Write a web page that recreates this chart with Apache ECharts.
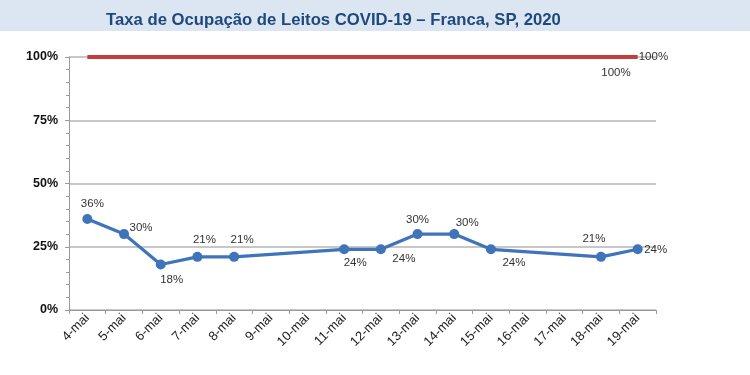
<!DOCTYPE html>
<html>
<head>
<meta charset="utf-8">
<script src="https://cdn.jsdelivr.net/npm/echarts@6/dist/echarts.min.js"></script>
<style>
  html, body { margin: 0; padding: 0; background: #fff; }
  #band { position: absolute; left: 0; top: 0; width: 750px; height: 31px; background: #dce6f2; }
  #chart { position: absolute; left: 0; top: 0; width: 750px; height: 375px; }
</style>
</head>
<body>
<div id="band"></div>
<div id="chart"></div>
<script>
const days = ["4-mai", "5-mai", "6-mai", "7-mai", "8-mai", "9-mai", "10-mai", "11-mai",
  "12-mai", "13-mai", "14-mai", "15-mai", "16-mai", "17-mai", "18-mai", "19-mai"];
const ocupacao = [36, 30, 18, 21, 21, null, null, 24, 24, 30, 30, 24, null, null, 21, 24];
const limite = [100, 100, 100, 100, 100, 100, 100, 100, 100, 100, 100, 100, 100, 100, 100, 100];

// label nudges (px from the point), placed like the original
const blueLabelOffset = {
  0: [5, -15], 1: [17, -6], 2: [11, 15], 3: [7, -17], 4: [8, -17],
  7: [11, 14], 8: [23, 10], 9: [0, -14], 10: [13, -11], 11: [23, 14],
  14: [-7, -18], 15: [18, 1]
};

const chart = echarts.init(document.getElementById("chart"));

const blueData = ocupacao.map((v, i) => {
  if (v === null) return null;
  return { value: v, label: { position: "inside", offset: blueLabelOffset[i] } };
});

const last = limite.length - 1;
const redData = limite.map((v, i) => {
  if (i === last) return { value: v, label: { show: true, position: "right", distance: 1 } };
  if (i === last - 1) return { value: v, label: { show: true, position: "inside", offset: [15, 16] } };
  return v;
});

chart.setOption({
  animation: false,
  title: {
    text: "Taxa de Ocupação de Leitos COVID-19 – Franca, SP, 2020",
    left: 101,
    top: 7,
    textStyle: { fontFamily: "Liberation Sans", fontWeight: "bold", fontSize: 16.7, color: "#1f497d" }
  },
  grid: { left: 69, right: 94, top: 57, bottom: 65 },
  xAxis: {
    type: "category",
    data: days,
    boundaryGap: true,
    axisLine: { lineStyle: { color: "#9a9a9a", width: 1 } },
    axisTick: { show: true, length: 4, lineStyle: { color: "#9a9a9a" } },
    axisLabel: { interval: 0, rotate: 45, fontFamily: "Liberation Sans", fontSize: 13, color: "#222", margin: 6 }
  },
  yAxis: {
    type: "value",
    min: 0,
    max: 100,
    interval: 25,
    axisLine: { show: true, lineStyle: { color: "#9a9a9a" } },
    axisTick: { show: true, length: 4, lineStyle: { color: "#9a9a9a" } },
    minorTick: { show: true, splitNumber: 5, length: 3, lineStyle: { color: "#9a9a9a" } },
    splitLine: { lineStyle: { color: "#b5b5b5", width: 1.5 } },
    axisLabel: {
      formatter: "{value}%",
      fontFamily: "Liberation Sans",
      fontWeight: "bold",
      fontSize: 12.5,
      color: "#111",
      margin: 11
    }
  },
  series: [
    {
      name: "Limite",
      type: "line",
      data: redData,
      symbol: "circle",
      symbolSize: 0.1,
      lineStyle: { color: "#c43d3c", width: 4 },
      itemStyle: { color: "#c43d3c" },
      label: { show: false, formatter: "{c}%", fontFamily: "Liberation Sans", fontSize: 11.5, color: "#333" },
      z: 3
    },
    {
      name: "Ocupação",
      type: "line",
      data: blueData,
      connectNulls: true,
      symbol: "circle",
      symbolSize: 10,
      lineStyle: { color: "#3f74ba", width: 3.2 },
      itemStyle: { color: "#3f74ba" },
      label: { show: true, formatter: "{c}%", fontFamily: "Liberation Sans", fontSize: 11.5, color: "#333" },
      z: 4
    }
  ]
});
window.addEventListener("resize", () => chart.resize());
</script>
</body>
</html>
